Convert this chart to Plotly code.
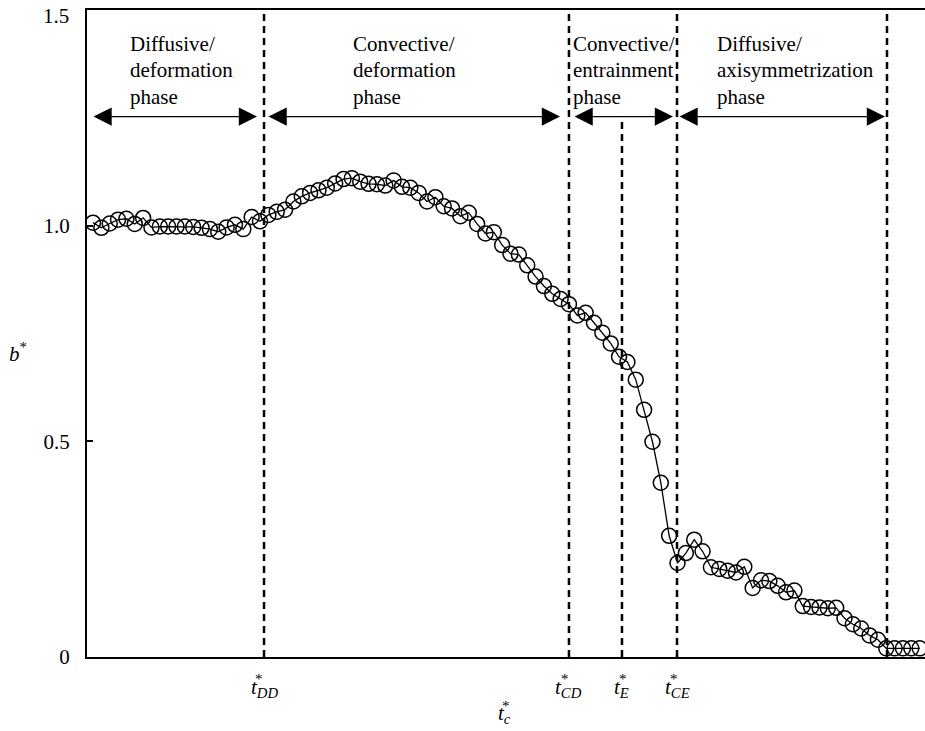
import plotly.graph_objects as go

# ---------------- data ----------------
t_c = [0, 1, 2, 3, 4, 5, 6, 7, 8, 9,
       10, 11, 12, 13, 14, 15, 16, 17, 18, 19,
       20, 21, 22, 23, 24, 25, 26, 27, 28, 29,
       30, 31, 32, 33, 34, 35, 36, 37, 38, 39,
       40, 41, 42, 43, 44, 45, 46, 47, 48, 49,
       50, 51, 52, 53, 54, 55, 56, 57, 58, 59,
       60, 61, 62, 63, 64, 65, 66, 67, 68, 69,
       70, 71, 72, 73, 74, 75, 76, 77, 78, 79,
       80, 81, 82, 83, 84, 85, 86, 87, 88, 89,
       90, 91, 92, 93, 94, 95, 96, 97, 98, 99]

b_star = [1.007, 0.995, 1.005, 1.014, 1.016, 1.004, 1.018, 0.996, 0.998, 0.998,
          0.998, 0.998, 0.997, 0.995, 0.992, 0.986, 0.996, 1.002, 0.992, 1.020,
          1.010, 1.025, 1.032, 1.037, 1.056, 1.068, 1.076, 1.082, 1.088, 1.098,
          1.108, 1.110, 1.102, 1.097, 1.096, 1.093, 1.105, 1.090, 1.088, 1.076,
          1.056, 1.066, 1.045, 1.040, 1.022, 1.030, 1.004, 0.982, 0.985, 0.955,
          0.935, 0.933, 0.908, 0.882, 0.860, 0.842, 0.830, 0.818, 0.792, 0.798,
          0.775, 0.752, 0.727, 0.696, 0.684, 0.643, 0.573, 0.499, 0.404, 0.281,
          0.218, 0.241, 0.272, 0.245, 0.208, 0.204, 0.200, 0.196, 0.209, 0.160,
          0.178, 0.176, 0.165, 0.150, 0.154, 0.118, 0.116, 0.115, 0.113, 0.114,
          0.090, 0.076, 0.066, 0.050, 0.040, 0.020, 0.020, 0.020, 0.020, 0.020]

# phase boundaries (t_DD, t_CD, t_E, t_CE, end of axisymmetrization)
boundary_t = [20.48, 57.0, 63.35, 69.94, 95.09]
boundary_top = [1.5, 1.5, 1.246, 1.5, 1.5]
tick_labels = ["DD", "CD", "E", "CE"]
tick_t = [20.48, 57.0, 63.35, 69.94]

# phase arrows
arrow_start = [-0.12, 20.84, 57.49, 70.06]
arrow_end = [19.64, 55.93, 69.46, 94.85]
arrow_b = 1.253

phase_lines = [["Diffusive/", "deformation", "phase"],
               ["Convective/", "deformation", "phase"],
               ["Convective/", "entrainment", "phase"],
               ["Diffusive/", "axisymmetrization", "phase"]]
phase_left_px = [128, 351, 571, 715]

y_ticks = [0, 0.5, 1.0]
y_ticktext = ["0", "0.5", "1.0"]
y_top = 1.5
y_top_text = "1.5"

# ---------------- figure ----------------
W, H = 925, 731
L, R, T, B = 87, 0, 10, 74
PW, PH = W - L - R, H - T - B
FONT = "Liberation Serif, Times New Roman, serif"


def px_to_paper_x(px):
    return (px - L) / PW


def px_to_paper_y(py):
    return (H - B - py) / PH


fig = go.Figure()
fig.add_trace(go.Scatter(
    x=t_c, y=b_star, mode="lines+markers",
    line=dict(color="black", width=1.3),
    marker=dict(symbol="circle-open", size=15, color="black",
                line=dict(width=1.5, color="black")),
    showlegend=False, hoverinfo="skip"))

shapes = []
for bt, top in zip(boundary_t, boundary_top):
    shapes.append(dict(type="line", xref="x", yref="y", x0=bt, x1=bt,
                       y0=0, y1=top,
                       line=dict(color="black", width=2.5, dash="7px,5px")))

annotations = []
for a0, a1 in zip(arrow_start, arrow_end):
    annotations.append(dict(
        x=a1, y=arrow_b, ax=a0, ay=arrow_b,
        xref="x", yref="y", axref="x", ayref="y",
        text="", showarrow=True, arrowside="end+start",
        arrowhead=2, startarrowhead=2, arrowsize=2.8, startarrowsize=2.8,
        arrowwidth=1.3, arrowcolor="black", standoff=0, startstandoff=0))

centers = [44, 70.5, 97]
for lines, lx in zip(phase_lines, phase_left_px):
    for txt, cy in zip(lines, centers):
        annotations.append(dict(
            x=px_to_paper_x(lx), y=px_to_paper_y(cy),
            xref="paper", yref="paper", xanchor="left", yanchor="middle",
            text=txt, showarrow=False,
            font=dict(family=FONT, size=21, color="black")))

# top y tick label
annotations.append(dict(
    x=0, y=y_top, xref="paper", yref="y", xanchor="right", yanchor="middle",
    xshift=-16, yshift=-6, text=y_top_text, showarrow=False,
    font=dict(family=FONT, size=21, color="black")))

# x tick labels t*_XX
for tt, lab in zip(tick_t, tick_labels):
    annotations.append(dict(
        x=tt, y=0, xref="x", yref="paper", xanchor="center", yanchor="middle",
        yshift=-31, text=f"<i>t</i><sub><i>{lab}</i></sub>", showarrow=False,
        font=dict(family=FONT, size=21, color="black")))
    sub_w = {"DD": 21.2, "CD": 20.4, "E": 9.0, "CE": 18.8}[lab]
    total = 5.9 + sub_w
    annotations.append(dict(
        x=tt, y=0, xref="x", yref="paper", xanchor="center", yanchor="middle",
        xshift=-total / 2 + 5.9 + 3, yshift=-22, text="*", showarrow=False,
        font=dict(family=FONT, size=15, color="black")))

# x title t*_c
annotations.append(dict(
    x=px_to_paper_x(504), y=0, xref="paper", yref="paper",
    xanchor="center", yanchor="middle", yshift=-57,
    text="<i>t</i><sub><i>c</i></sub>", showarrow=False,
    font=dict(family=FONT, size=21, color="black")))
annotations.append(dict(
    x=px_to_paper_x(504), y=0, xref="paper", yref="paper",
    xanchor="center", yanchor="middle", yshift=-49, xshift=2,
    text="*", showarrow=False,
    font=dict(family=FONT, size=15, color="black")))

# y title b*
annotations.append(dict(
    x=px_to_paper_x(18), y=px_to_paper_y(352), xref="paper", yref="paper",
    xanchor="center", yanchor="middle",
    text="<i>b</i><sup>*</sup>", showarrow=False,
    font=dict(family=FONT, size=21, color="black")))

fig.update_layout(
    width=W, height=H,
    margin=dict(l=L, r=R, t=T, b=B, pad=0),
    paper_bgcolor="white", plot_bgcolor="white",
    showlegend=False,
    shapes=shapes, annotations=annotations,
    xaxis=dict(range=[-0.72, 99.64], showline=True, linewidth=2,
               linecolor="black", mirror=True, ticks="",
               showticklabels=False, showgrid=False, zeroline=False),
    yaxis=dict(range=[0, 1.5], tickvals=y_ticks, ticktext=y_ticktext,
               ticks="inside", ticklen=6, tickwidth=1.5, tickcolor="black",
               showline=True, linewidth=2, linecolor="black",
               showgrid=False, zeroline=False, ticklabelstandoff=11,
               tickfont=dict(family=FONT, size=21, color="black")),
    yaxis2=dict(range=[0, 1.5], overlaying="y", side="right",
                tickvals=[0.5, 1.0], ticks="inside", ticklen=5,
                tickwidth=1.5, tickcolor="black", showticklabels=False,
                showline=False, showgrid=False, zeroline=False),
)

fig.write_html("out.html")
